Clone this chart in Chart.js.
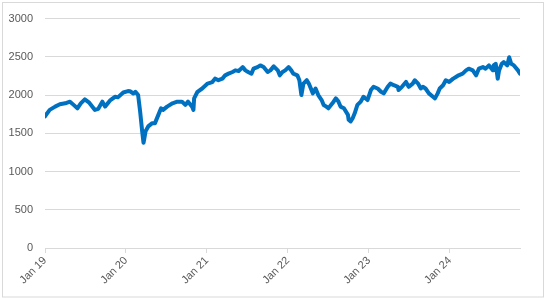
<!DOCTYPE html>
<html>
<head>
<meta charset="utf-8">
<script src="https://cdn.jsdelivr.net/npm/chart.js@4"></script>
<style>
  html, body { margin: 0; padding: 0; background: #ffffff; }
  #wrap { width: 545px; height: 298px; position: relative; }
</style>
</head>
<body>
<div id="wrap"><canvas id="c" width="545" height="298"></canvas></div>
<script>
// Months since Jan 2019
const months = [0,0.3,0.7,1.5,2.2,3.0,3.7,4.2,4.8,5.3,5.9,6.5,7.4,7.9,8.5,8.9,9.7,10.4,10.8,11.6,12.3,
  12.6,13.1,13.4,13.8,14.1,14.4,14.6,14.7,14.9,15.3,15.9,16.3,16.8,17.2,17.5,18.1,18.9,19.6,20.3,20.8,21.2,21.8,22.0,22.1,22.6,23.3,24.1,
  24.8,25.2,25.7,26.3,26.7,27.2,27.8,28.2,28.7,29.3,29.7,30.1,30.6,30.9,31.5,31.9,32.4,33.0,33.4,33.9,34.5,34.8,35.2,35.6,
  36.1,36.5,36.8,37.4,37.7,38.0,38.3,38.8,39.1,39.7,40.1,40.5,41.0,41.3,41.7,42.0,42.6,43.1,43.5,43.8,44.3,44.9,45.0,45.3,45.6,45.9,46.3,46.8,47.2,47.8,
  48.3,48.7,49.3,49.8,50.2,50.8,51.2,51.7,52.3,52.4,52.9,53.5,53.9,54.5,54.8,55.3,55.7,56.0,56.4,56.9,57.5,57.8,58.2,58.5,59.0,59.4,59.9,
  60.5,60.9,61.3,61.9,62.4,62.8,63.4,63.9,64.3,64.9,65.3,65.8,66.4,66.5,66.8,67.1,67.3,67.7,68.0,68.5,68.8,69.1,69.5,70.1,70.4];
const values = [1720,1760,1806,1849,1879,1892,1914,1875,1827,1892,1944,1905,1806,1820,1914,1849,1935,1978,1970,2034,2052,
  2050,2021,2043,2000,1785,1526,1375,1420,1526,1590,1633,1633,1741,1827,1806,1849,1892,1914,1914,1871,1914,1849,1806,1957,2043,2086,2150,
  2170,2215,2194,2215,2258,2280,2302,2323,2315,2366,2323,2302,2280,2345,2366,2388,2366,2302,2323,2375,2323,2258,2302,2323,
  2366,2323,2280,2258,2194,2000,2150,2194,2150,2022,2086,2000,1935,1871,1849,1827,1892,1957,1914,1849,1827,1741,1677,1655,1698,1762,1871,1914,1978,1935,
  2065,2108,2086,2043,2022,2108,2150,2129,2108,2065,2108,2172,2108,2150,2194,2150,2086,2108,2086,2022,1978,1957,2022,2086,2129,2194,2172,
  2215,2237,2258,2280,2323,2345,2323,2258,2345,2366,2345,2388,2323,2388,2409,2215,2323,2409,2431,2388,2495,2409,2388,2323,2280];
const yearTicks = [0,12,24,36,48,60];
const yearLabels = ['Jan 19','Jan 20','Jan 21','Jan 22','Jan 23','Jan 24'];
const yMax = 3000;
const yStep = 500;

const points = months.map((m, i) => ({ x: m, y: values[i] }));

const borderPlugin = {
  id: 'outerBorder',
  beforeDraw(chart) {
    const ctx = chart.ctx;
    ctx.save();
    ctx.fillStyle = '#ffffff';
    ctx.fillRect(0, 0, chart.width, chart.height);
    ctx.strokeStyle = '#d9d9d9';
    ctx.lineWidth = 1;
    ctx.strokeRect(2.5, 2.5, chart.width - 4, chart.height - 3.5);
    ctx.restore();
  }
};

const font = { family: "'Liberation Sans', Arial, sans-serif", size: 11 };

new Chart(document.getElementById('c'), {
  type: 'line',
  data: {
    datasets: [{
      data: points,
      borderColor: '#0070C0',
      backgroundColor: '#0070C0',
      borderWidth: 4,
      pointRadius: 0,
      tension: 0,
      borderJoinStyle: 'round',
      borderCapStyle: 'round'
    }]
  },
  options: {
    responsive: false,
    animation: false,
    events: [],
    layout: { padding: { left: 0, top: 16, right: 25, bottom: 0 } },
    plugins: { legend: { display: false }, tooltip: { enabled: false } },
    scales: {
      x: {
        type: 'linear',
        min: 0,
        max: months[months.length - 1],
        afterFit(scale) { scale.height = 50; },
        afterBuildTicks(scale) { scale.ticks = yearTicks.map(v => ({ value: v })); },
        ticks: {
          autoSkip: false,
          maxRotation: 45,
          minRotation: 45,
          color: '#595959',
          font: font,
          padding: 1,
          callback: (v) => yearLabels[yearTicks.indexOf(v)]
        },
        grid: { drawOnChartArea: false, drawTicks: true, tickLength: 5, color: '#d9d9d9' },
        border: { display: true, color: '#d9d9d9' }
      },
      y: {
        min: 0,
        max: yMax,
        afterFit(scale) { scale.width = 45; },
        ticks: { stepSize: yStep, color: '#595959', font: font, padding: 12, callback: (v) => String(v) },
        grid: { color: '#d9d9d9', drawTicks: false },
        border: { display: false }
      }
    }
  },
  plugins: [borderPlugin]
});
</script>
</body>
</html>
